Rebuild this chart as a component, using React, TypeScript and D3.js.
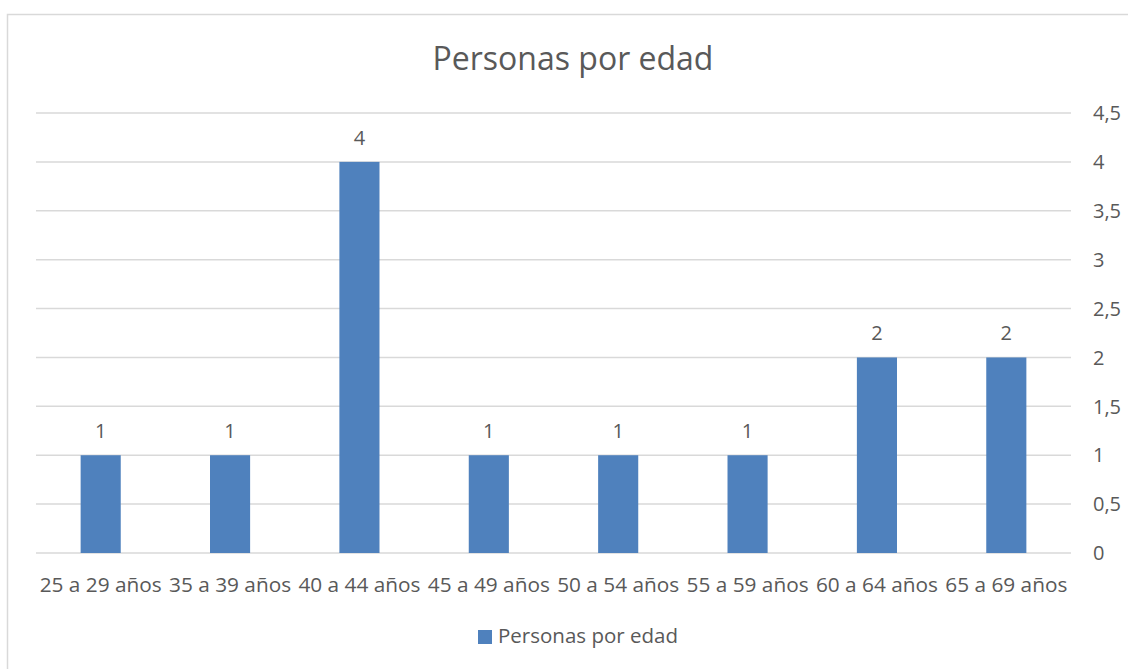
import React from "react";
import * as d3 from "d3";

const categories = ["25 a 29 años", "35 a 39 años", "40 a 44 años", "45 a 49 años", "50 a 54 años", "55 a 59 años", "60 a 64 años", "65 a 69 años"];
const values = [1, 1, 4, 1, 1, 1, 2, 2];
const yTicks = [0, 0.5, 1, 1.5, 2, 2.5, 3, 3.5, 4, 4.5];
const seriesName = "Personas por edad";
const title = "Personas por edad";

const W = 1128, H = 669;
const plot = { left: 36, right: 1071, top: 113, bottom: 553 };
const FONT = "'Open Sans', 'Noto Sans', sans-serif";
const TEXT = "#595959";
const BAR = "#4F81BD";
const GRID = "#D9D9D9";

export default function App() {
  const x = d3.scaleBand<string>().domain(categories).range([plot.left, plot.right]).paddingInner(0.69).paddingOuter(0.345);
  const y = d3.scaleLinear().domain([0, 4.5]).range([plot.bottom, plot.top]);
  const fmt = (v: number) => String(v).replace(".", ",");
  return (
    <svg width={W} height={H} style={{ position: "absolute", left: 0, top: 0 }} fontFamily={FONT}>
      <rect x={0} y={0} width={W} height={H} fill="#fff" />
      <rect x={7.5} y={14.5} width={W + 20} height={H + 20} fill="none" stroke={GRID} strokeWidth={1.5} />
      <text x={573} y={70} textAnchor="middle" fontSize={32} fill={TEXT}>{title}</text>
      {yTicks.map((t) => (
        <g key={t}>
          <line x1={plot.left} x2={plot.right} y1={y(t)} y2={y(t)} stroke={GRID} strokeWidth={1.5} />
          <text x={1093} y={y(t)} dy="0.36em" fontSize={20} fill={TEXT}>{fmt(t)}</text>
        </g>
      ))}
      {categories.map((c, i) => (
        <g key={c}>
          <rect x={x(c)} y={y(values[i])} width={x.bandwidth()} height={y(0) - y(values[i])} fill={BAR} />
          <text x={(x(c) as number) + x.bandwidth() / 2} y={y(values[i]) - 17} textAnchor="middle" fontSize={20} fill={TEXT}>{fmt(values[i])}</text>
          <text x={(x(c) as number) + x.bandwidth() / 2} y={592} textAnchor="middle" fontSize={20.8} fill={TEXT}>{c}</text>
        </g>
      ))}
      <rect x={478} y={630} width={14} height={14} fill={BAR} />
      <text x={498} y={643} fontSize={20.5} fill={TEXT}>{seriesName}</text>
    </svg>
  );
}
